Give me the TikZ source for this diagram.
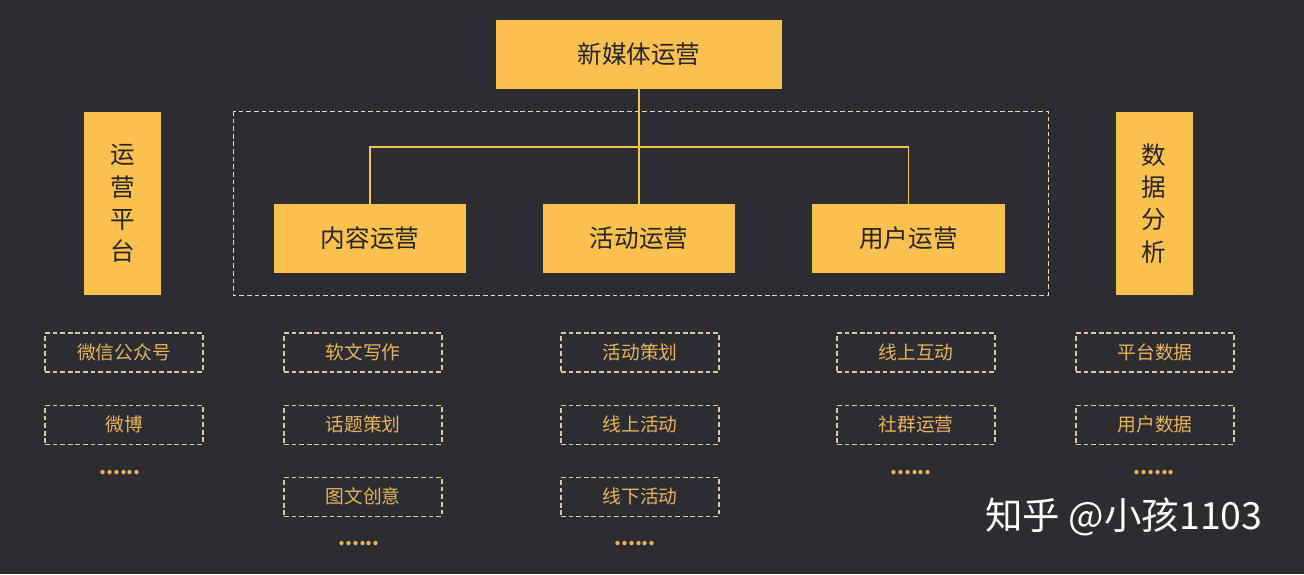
\documentclass[tikz,border=0pt]{standalone}
\usepackage{fontspec}
\setmainfont{Noto Sans CJK SC}
\usetikzlibrary{positioning}

\definecolor{bg}{HTML}{2B2D31}
\definecolor{gold}{HTML}{FCC04F}
\definecolor{goldtxt}{HTML}{E8B35A}
\definecolor{beige}{HTML}{D9C9A8}

\tikzset{
  mainbox/.style={fill=gold, text=black!85, font=\fontsize{21}{24}\selectfont, minimum height=2.07cm, inner sep=0pt},
  sidebox/.style={fill=gold, text=black!85, font=\fontsize{21}{27.5}\selectfont, minimum width=2.31cm, minimum height=5.49cm, align=center, inner sep=0pt},
  itembox/.style={draw=beige, dash pattern=on 4pt off 2.5pt, line width=0.9pt, text=goldtxt, font=\fontsize{16}{19}\selectfont, minimum width=4.74cm, minimum height=1.17cm, inner sep=0pt},
  moredots/.style={text=goldtxt, font=\bfseries\fontsize{17}{19}\selectfont},
  link/.style={draw=gold, line width=0.9pt}
}

\begin{document}
\begin{tikzpicture}[x=0.03cm, y=-0.03cm]
   \fill[bg] (0,0) rectangle (1304,574);
   \useasboundingbox (0,0) rectangle (1304,574);

   % Top of the tree
   \node[mainbox, minimum width=8.58cm] (xmt) at (639,54.5) {新媒体运营};
   \draw[beige!70, dash pattern=on 4pt off 2.5pt, line width=0.7pt] (233,111) rectangle (1048,295);

   % Second level
   \node[mainbox, minimum width=5.76cm] (nr) at (370,238.5) {内容运营};
   \node[mainbox, minimum width=5.76cm] (hd) at (639,238.5) {活动运营};
   \node[mainbox, minimum width=5.79cm] (yh) at (908.5,238.5) {用户运营};

   % Side columns
   \node[sidebox] (pt) at (122.5,203.5) {运\\营\\平\\台};
   \node[sidebox] (sj) at (1154,203.5) {数\\据\\分\\析};

   % Connectors
   \coordinate (split) at (639,147);
   \draw[link] (xmt.south) -- (split);
   \draw[link] (nr.north) |- (split) -| (yh.north);
   \draw[link] (split) -- (hd.north);

   % Items, column by column
   \node[itembox] (pt1) at (124,352.5) {微信公众号};
   \node[itembox] (pt2) [below=0.96cm of pt1] {微博};
   \node[moredots] (pt3) at (120,473) {......};

   \node[itembox] (nr1) at (363,352.5) {软文写作};
   \node[itembox] (nr2) [below=0.96cm of nr1] {话题策划};
   \node[itembox] (nr3) [below=0.96cm of nr2] {图文创意};
   \node[moredots] (nr4) at (359,544) {......};

   \node[itembox] (hd1) at (640,352.5) {活动策划};
   \node[itembox] (hd2) [below=0.96cm of hd1] {线上活动};
   \node[itembox] (hd3) [below=0.96cm of hd2] {线下活动};
   \node[moredots] (hd4) at (635,544) {......};

   \node[itembox] (yh1) at (916,352.5) {线上互动};
   \node[itembox] (yh2) [below=0.96cm of yh1] {社群运营};
   \node[moredots] (yh3) at (911,473) {......};

   \node[itembox] (sj1) at (1155,352.5) {平台数据};
   \node[itembox] (sj2) [below=0.96cm of sj1] {用户数据};
   \node[moredots] (sj3) at (1154,473) {......};

   % Watermark
   \node[text=white, font=\fontsize{32}{35}\selectfont] (wm) at (1124,517) {知乎 @小孩1103};
\end{tikzpicture}
\end{document}
